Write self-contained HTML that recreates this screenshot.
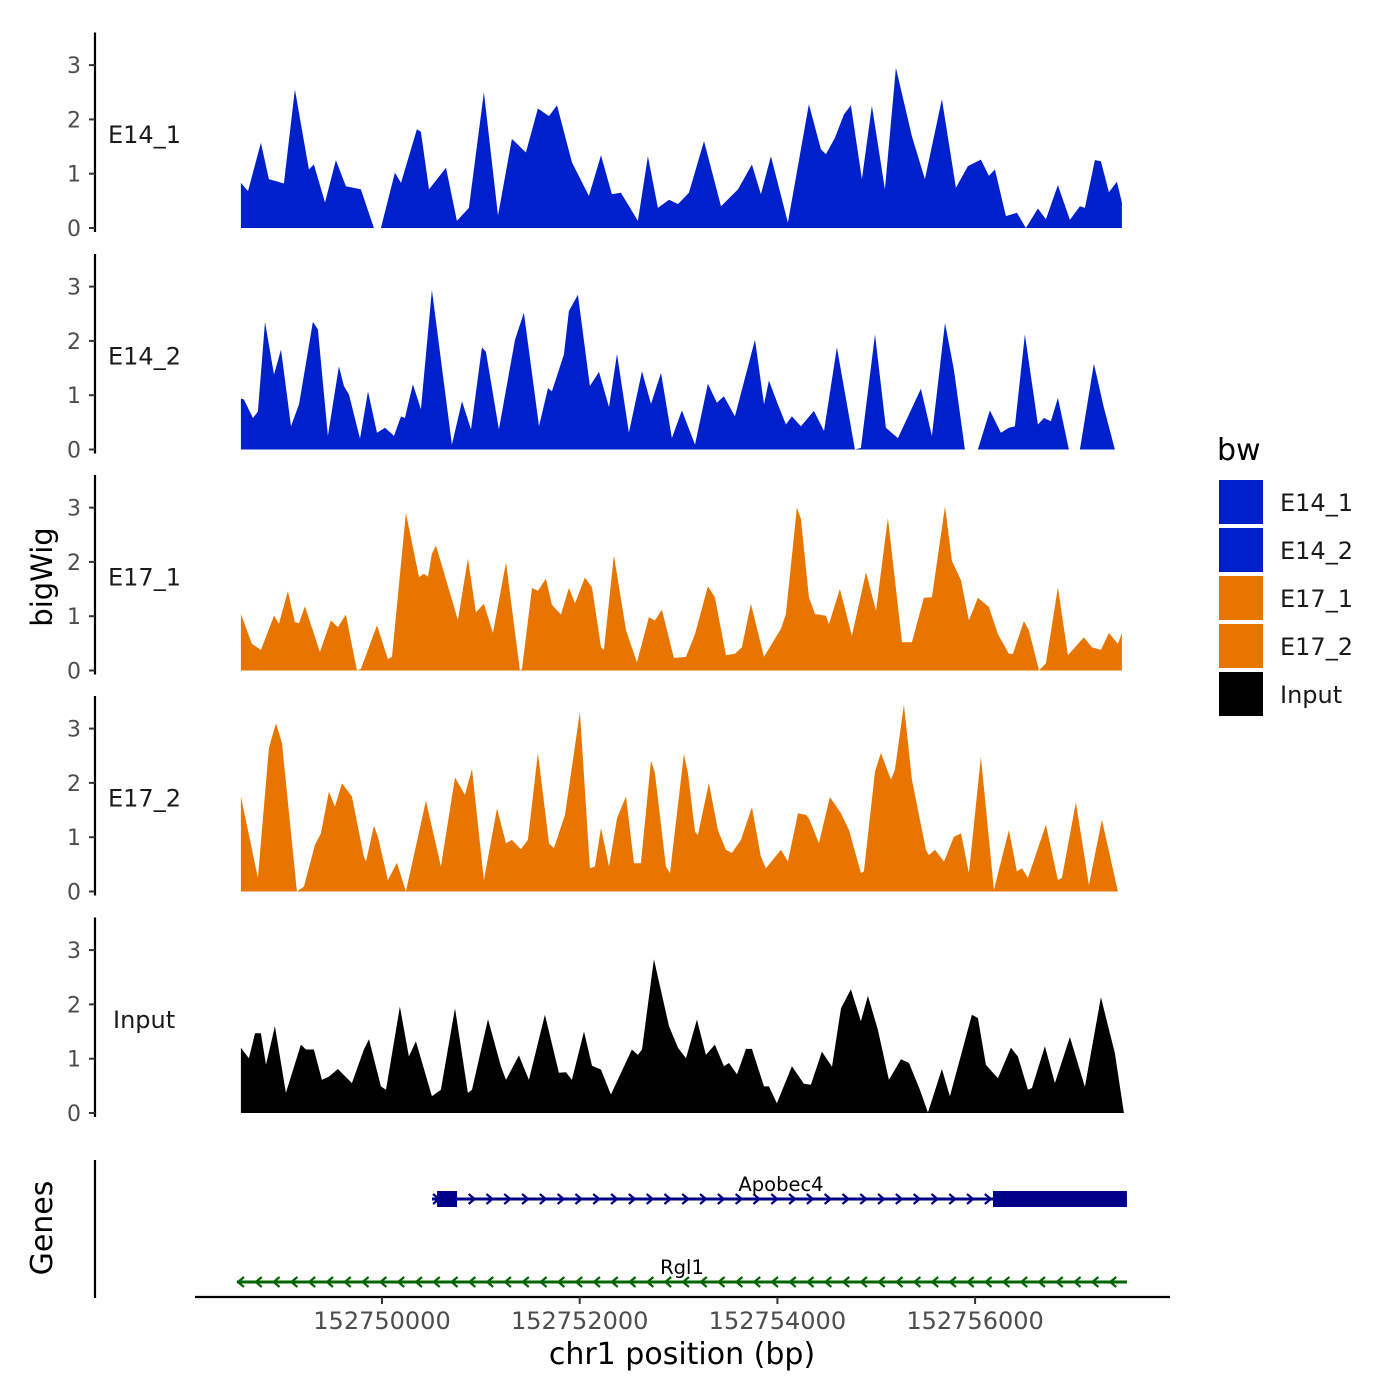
<!DOCTYPE html>
<html><head><meta charset="utf-8"><style>
html,body{margin:0;padding:0;background:#fff;}
svg{display:block;font-family:"DejaVu Sans","Liberation Sans",sans-serif;}
</style></head><body>
<svg id="chart" width="1400" height="1400" viewBox="0 0 1400 1400" xmlns="http://www.w3.org/2000/svg">
<rect width="1400" height="1400" fill="#fff"/>
<text transform="translate(52,577) rotate(-90)" text-anchor="middle" font-size="29">bigWig</text>
<text transform="translate(52,1228) rotate(-90)" text-anchor="middle" font-size="30">Genes</text>
<text x="682" y="1364" text-anchor="middle" font-size="30">chr1 position (bp)</text>
<g id="tracks"></g>
<g id="genes"></g>
<g id="xaxis"></g>
<g id="legend"></g>
</svg>
<script>
const regionStart = 152748573;
const trackNames = ["E14_1","E14_2","E17_1","E17_2","Input"];
const trackColors = ["#0020CC","#0020CC","#E87500","#E87500","#000000"];
const yTicks = [0,1,2,3];
const xTicks = [152750000,152752000,152754000,152756000];
const xTickLabels = ["152750000","152752000","152754000","152756000"];

const posE14_1 = [0,71,202,283,435,546,688,738,850,961,1062,1214,1345,1416,1558,1619,1780,1821,1902,2074,2185,2306,2458,2600,2741,2883,3004,3116,3197,3348,3520,3642,3753,3844,4016,4117,4218,4330,4421,4532,4684,4856,5028,5169,5260,5361,5533,5746,5867,5918,6009,6100,6171,6282,6383,6515,6626,6788,6919,7091,7233,7354,7486,7567,7627,7739,7850,7941,8062,8143,8265,8386,8487,8538,8639,8700,8781,8862,8912];
const valE14_1 = [0.83,0.68,1.57,0.9,0.82,2.55,1.08,1.17,0.47,1.25,0.77,0.71,0,0,1.02,0.83,1.82,1.77,0.71,1.11,0.13,0.37,2.5,0.23,1.64,1.39,2.2,2.06,2.26,1.21,0.59,1.34,0.62,0.65,0.13,1.32,0.37,0.52,0.44,0.65,1.6,0.4,0.71,1.17,0.62,1.32,0.1,2.28,1.45,1.36,1.66,2.09,2.26,0.9,2.25,0.71,2.95,1.69,0.9,2.37,0.74,1.14,1.26,0.96,1.08,0.22,0.28,0,0.36,0.16,0.79,0.15,0.4,0.37,1.25,1.23,0.66,0.85,0.47];

const posE14_2 = [0,30,121,172,243,334,405,506,587,728,779,880,991,1042,1093,1204,1285,1376,1457,1548,1619,1659,1740,1821,1932,2134,2236,2327,2438,2478,2610,2772,2863,3015,3106,3146,3267,3318,3409,3530,3622,3723,3804,3925,4057,4148,4249,4360,4461,4593,4724,4815,4886,4997,5200,5291,5341,5432,5513,5574,5665,5796,5898,6029,6211,6272,6414,6525,6646,6879,6990,7122,7213,7324,7455,7577,7688,7769,7830,7931,8062,8123,8194,8265,8376,8487,8629,8730,8841];
const valE14_2 = [0.94,0.92,0.58,0.7,2.35,1.38,1.84,0.43,0.83,2.35,2.21,0.25,1.53,1.17,1.01,0.2,1.07,0.31,0.4,0.25,0.61,0.58,1.2,0.74,2.94,0.09,0.89,0.37,1.88,1.8,0.37,2.02,2.52,0.43,1.13,1.07,1.75,2.55,2.85,1.17,1.43,0.78,1.76,0.31,1.44,0.84,1.41,0.21,0.72,0.09,1.21,0.86,0.98,0.61,2.02,0.83,1.27,0.83,0.46,0.61,0.43,0.71,0.34,1.88,0,0.03,2.12,0.4,0.21,1.12,0.25,2.33,1.47,0,0,0.72,0.31,0.4,0.43,2.12,0.46,0.58,0.52,0.95,0,0,1.58,0.77,0];

const posE17_1 = [0,111,202,334,384,475,546,587,647,799,910,981,1062,1173,1214,1376,1487,1528,1669,1801,1851,1892,1932,1973,2195,2296,2377,2458,2549,2681,2822,2843,2944,3004,3085,3146,3237,3318,3379,3480,3551,3642,3672,3773,3895,4006,4127,4188,4259,4380,4502,4593,4724,4795,4906,4997,5068,5159,5291,5463,5513,5624,5665,5746,5807,5918,5948,6059,6181,6323,6424,6545,6687,6788,6909,6990,7122,7192,7284,7364,7455,7567,7658,7769,7810,7921,7971,8073,8143,8265,8366,8528,8609,8700,8781,8872,8912];
const valE17_1 = [1.04,0.49,0.38,1.01,0.86,1.46,0.89,0.87,1.18,0.34,0.92,0.8,1.03,0,0.03,0.83,0.21,0.25,2.9,1.72,1.78,1.73,2.15,2.3,0.93,2.06,1.07,1.23,0.69,1.99,0,0.03,1.52,1.47,1.69,1.21,1.03,1.52,1.24,1.71,1.53,0.43,0.38,2.12,0.74,0.15,0.98,0.92,1.12,0.23,0.25,0.67,1.55,1.35,0.28,0.31,0.43,1.23,0.25,0.77,1.04,3.0,2.79,1.35,1.04,1.01,0.85,1.5,0.64,1.81,1.1,2.81,0.52,0.52,1.34,1.35,3.02,2.02,1.66,0.92,1.34,1.17,0.67,0.31,0.31,0.91,0.74,0,0.13,1.53,0.28,0.61,0.43,0.38,0.69,0.49,0.69];

const posE17_2 = [0,172,283,354,415,566,637,749,809,890,951,1022,1123,1244,1265,1345,1386,1487,1578,1669,1791,1871,2023,2165,2266,2337,2458,2590,2681,2741,2832,2903,3004,3116,3166,3278,3429,3530,3581,3642,3723,3804,3895,3976,4046,4148,4188,4299,4340,4481,4522,4593,4623,4734,4825,4906,4967,5058,5169,5260,5311,5463,5533,5635,5716,5746,5847,5958,6070,6151,6272,6302,6414,6474,6575,6616,6707,6788,6929,6960,7021,7112,7213,7284,7364,7486,7617,7769,7850,7901,7961,8143,8265,8305,8447,8578,8710,8872];
const valE17_2 = [1.75,0.25,2.64,3.1,2.73,0,0.09,0.86,1.07,1.84,1.56,1.99,1.75,0.64,0.55,1.21,1.01,0.21,0.53,0,1.01,1.67,0.46,2.1,1.78,2.25,0.21,1.53,0.89,0.95,0.78,0.95,2.55,0.89,0.8,1.41,3.31,0.43,0.46,1.17,0.46,1.35,1.75,0.52,0.52,2.41,2.18,0.46,0.34,2.53,2.18,1.1,1.04,2.0,1.13,0.77,0.71,0.95,1.55,0.64,0.43,0.77,0.55,1.44,1.41,1.35,0.89,1.74,1.44,1.13,0.34,0.37,2.21,2.55,2.06,2.24,3.44,2.06,0.77,0.67,0.77,0.55,1.01,1.07,0.34,2.48,0.03,1.13,0.37,0.43,0.25,1.23,0.21,0.25,1.64,0.12,1.32,0];

const posInput = [0,81,142,202,253,344,455,607,658,738,819,890,981,1123,1244,1295,1416,1467,1608,1699,1770,1932,2023,2165,2296,2337,2499,2630,2681,2812,2913,3075,3217,3288,3348,3470,3551,3642,3743,3955,4016,4057,4178,4330,4421,4502,4613,4704,4795,4886,4937,5018,5109,5169,5291,5341,5422,5574,5695,5766,5877,5979,6070,6171,6272,6343,6444,6555,6677,6758,6869,6950,7091,7172,7395,7455,7536,7658,7789,7860,7961,8002,8133,8234,8386,8538,8700,8841,8932];
const valInput = [1.2,1.01,1.47,1.47,0.89,1.6,0.37,1.26,1.17,1.17,0.61,0.67,0.81,0.55,1.17,1.36,0.49,0.43,1.96,1.04,1.32,0.31,0.43,1.93,0.37,0.43,1.73,0.86,0.61,1.06,0.61,1.81,0.74,0.75,0.61,1.5,0.87,0.8,0.34,1.17,1.07,1.17,2.83,1.6,1.2,1.01,1.72,1.07,1.26,0.86,0.92,0.71,1.18,1.18,0.49,0.49,0.18,0.86,0.54,0.52,1.13,0.85,1.93,2.28,1.69,2.16,1.53,0.61,0.99,0.92,0.43,0.01,0.81,0.31,1.81,1.75,0.89,0.64,1.2,1.04,0.43,0.46,1.23,0.55,1.4,0.48,2.13,1.1,0];

const trackPositions = [posE14_1,posE14_2,posE17_1,posE17_2,posInput];
const trackValues = [valE14_1,valE14_2,valE17_1,valE17_2,valInput];

const geneNames = ["Apobec4","Rgl1"];
const geneStarts = [152750506,152748533];
const geneEnds = [152757536,152757536];
const geneStrands = ["+","-"];
const geneColors = ["#00008B","#006400"];
const exonStarts = [[152750557,152756181],[]];
const exonEnds = [[152750759,152757536],[]];

const NS="http://www.w3.org/2000/svg";
function mk(tag, attrs, parent){const e=document.createElementNS(NS,tag);for(const k in attrs)e.setAttribute(k,attrs[k]);parent.appendChild(e);return e;}
const xScale = bp => 382 + (bp - 152750000) * 197.7 / 2000;
const baselines = [228, 449.5, 670.5, 891.5, 1113];
const unitPx = 54.3;
const yScale = (t, v) => baselines[t] - v * unitPx;

const tracks = document.getElementById('tracks');
trackNames.forEach((name, t) => {
  const g = mk('g', {}, tracks);
  
  
  const pos = trackPositions[t], val = trackValues[t];
  let d = 'M' + xScale(regionStart + pos[0]).toFixed(1) + ',' + baselines[t];
  for (let i = 0; i < pos.length; i++) d += 'L' + xScale(regionStart + pos[i]).toFixed(1) + ',' + yScale(t, val[i]).toFixed(1);
  d += 'L' + xScale(regionStart + pos[pos.length-1]).toFixed(1) + ',' + baselines[t] + 'Z';
  const area = mk('path', {d: d, fill: trackColors[t]}, g);
  
  
  const top = yScale(t, 3.6), bot = baselines[t] + 4;
  const ax = mk('line', {x1: 95, x2: 95, y1: top, y2: bot, stroke: '#000', 'stroke-width': 2.2}, g);
  
  
  yTicks.forEach(v => {
    const y = yScale(t, v);
    const tk = mk('line', {x1: 89, x2: 95, y1: y, y2: y, stroke: '#333', 'stroke-width': 2}, g);
    
    
    const lb = mk('text', {x: 81, y: y + 8, 'text-anchor': 'end', 'font-size': 22, fill: '#4d4d4d'}, g);
    lb.textContent = v;
    
    
  });
  const pl = mk('text', {x: name === 'Input' ? 113 : 108, y: baselines[t] - 94 + 9, 'font-size': 24, fill: '#1a1a1a'}, g);
  pl.textContent = name;
  
  
});

const genes = document.getElementById('genes');
const gax = mk('line', {x1: 95, x2: 95, y1: 1160, y2: 1298, stroke: '#000', 'stroke-width': 2.2}, genes);


const geneY = [1199, 1282];
geneNames.forEach((gn, i) => {
  const g = mk('g', {}, genes);
  
  
  const x1 = xScale(geneStarts[i]), x2 = xScale(geneEnds[i]), y = geneY[i], c = geneColors[i];
  mk('line', {x1: x1, x2: x2, y1: y, y2: y, stroke: c, 'stroke-width': 3}, g);
  const step = 17.8;
  for (let x = x1 + 4; x < x2 - 4; x += step) {
    const p = geneStrands[i] === '+' ? `M${x-3},${y-5}L${x+3},${y}L${x-3},${y+5}` : `M${x+3},${y-5}L${x-3},${y}L${x+3},${y+5}`;
    mk('path', {d: p, fill: 'none', stroke: c, 'stroke-width': 2.2}, g);
  }
  exonStarts[i].forEach((s, k) => {
    const ex = mk('rect', {x: xScale(s), y: y - 8, width: xScale(exonEnds[i][k]) - xScale(s), height: 16, fill: c}, g);
    
    
  });
  const lb = mk('text', {x: (i === 0 ? 781 : 682), y: y - 8, 'text-anchor': 'middle', 'font-size': 19.5}, g);
  lb.textContent = gn;
  
  
});

const xa = document.getElementById('xaxis');
const xl = mk('line', {x1: 195, x2: 1170, y1: 1297, y2: 1297, stroke: '#000', 'stroke-width': 2.2}, xa);


xTicks.forEach((v, i) => {
  const x = xScale(v);
  const tk = mk('line', {x1: x, x2: x, y1: 1297, y2: 1304, stroke: '#333', 'stroke-width': 2}, xa);
  
  
  const lb = mk('text', {x: x, y: 1329, 'text-anchor': 'middle', 'font-size': 24, fill: '#4d4d4d'}, xa);
  lb.textContent = xTickLabels[i];
  
  
});

const lg = document.getElementById('legend');
const lt = mk('text', {x: 1217, y: 460, 'font-size': 30}, lg);
lt.textContent = 'bw';


trackNames.forEach((name, i) => {
  const g = mk('g', {}, lg);
  
  
  mk('rect', {x: 1219, y: 480 + 48 * i, width: 44, height: 44, fill: trackColors[i]}, g);
  const t = mk('text', {x: 1280, y: 511 + 48 * i, 'font-size': 24, fill: '#1a1a1a'}, g);
  t.textContent = name;
});
</script>
</body></html>
